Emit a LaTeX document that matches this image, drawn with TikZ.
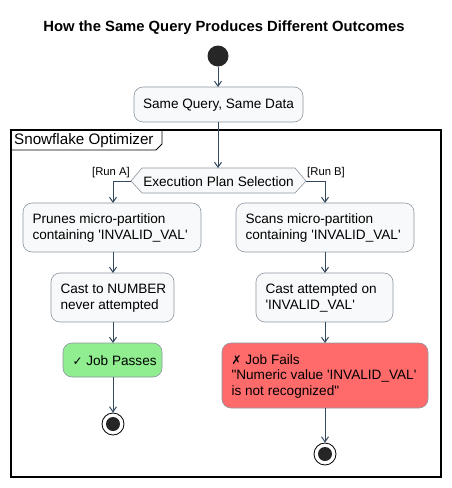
\documentclass[tikz,border=0pt]{standalone}
\usepackage{fontspec}
\setmainfont{Liberation Sans}[Ligatures=TeXOff]
\newfontfamily\symfont{DejaVu Sans}
\usetikzlibrary{arrows.meta,shapes.misc}
\definecolor{arr}{HTML}{34495E}
\definecolor{boxfill}{HTML}{F8F9FA}
\definecolor{boxline}{HTML}{8C96A0}
\definecolor{okfill}{HTML}{90EE90}
\definecolor{failfill}{HTML}{FF6B6B}
\begin{document}
\begin{tikzpicture}[x=1pt,y=-1pt,
  font=\fontsize{13.6}{15.5}\selectfont,
  act/.style={draw=boxline,fill=boxfill,rounded corners=9pt,line width=0.6pt,inner sep=0pt},
  flow/.style={draw=arr,line width=1pt,-{Straight Barb[length=5pt,width=7pt,line width=1pt]}},
  lab/.style={font=\fontsize{11.3}{13}\selectfont,inner sep=0pt}]
\useasboundingbox (0,0) rectangle (451,488);
\fill[white] (0,0) rectangle (451,488);
% title
\node[font=\bfseries\fontsize{14.8}{17}\selectfont] (title) at (224,28) {How the Same Query Produces Different Outcomes};
% start
\node[circle,fill=black!85,minimum size=21pt,inner sep=0pt] (start) at (218,56) {};
% same query box
\draw[act] (134,87) rectangle (303,122);
\node (sq) at (218.5,105) {Same Query, Same Data};
\coordinate (sqt) at (218,87);
\coordinate (sqb) at (218,122);
% frame
\draw[line width=1.2pt] (11,130) rectangle (441,477);
\draw[line width=0.8pt] (11,150) -- (156,150) -- (162,144) -- (162,130);
\node[anchor=west,inner sep=0pt,font=\fontsize{15.2}{17}\selectfont] (frl) at (14,141) {Snowflake Optimizer};
% diamond
\draw[draw=boxline,fill=boxfill,line width=0.6pt] (131,181) -- (142,168) -- (295,168) -- (306,181) -- (295,193) -- (142,193) -- cycle;
\node (dia) at (218.5,181.5) {Execution Plan Selection};
\coordinate (diat) at (218,168);
\coordinate (dial) at (131,181);
\coordinate (diar) at (306,181);
\node[lab,anchor=south east] (ra) at (130,178) {[Run A]};
\node[lab,anchor=south west] (rb) at (307,178) {[Run B]};
% left column
\draw[act] (23,203) rectangle (201,252);
\node[align=left,anchor=west] (l1) at (29,228) {Prunes micro-partition\\containing 'INVALID\_VAL'};
\draw[act] (51,273) rectangle (174,322);
\node[align=left,anchor=west] (l2) at (57,298) {Cast to NUMBER\\never attempted};
\draw[fill=okfill,draw=boxline,rounded corners=9pt,line width=0.6pt] (63,343) rectangle (162,377);
\node[anchor=west] (l3) at (69,361) {{\symfont\fontsize{12}{13}\selectfont ✓} Job Passes};
\node[circle,draw=black,line width=0.8pt,fill=white,minimum size=22pt,inner sep=0pt] (lend) at (113,424) {};
\fill[black!85] (lend) circle (7pt);
% right column
\draw[act] (236,203) rectangle (414,252);
\node[align=left,anchor=west] (r1) at (242,228) {Scans micro-partition\\containing 'INVALID\_VAL'};
\draw[act] (256,273) rectangle (393,322);
\node[align=left,anchor=west] (r2) at (262,298) {Cast attempted on\\'INVALID\_VAL'};
\draw[fill=failfill,draw=boxline,rounded corners=9pt,line width=0.6pt] (222,343) rectangle (428,408);
\node[align=left,anchor=west] (r3) at (228,376) {{\symfont\fontsize{12}{13}\selectfont ✗} Job Fails\\"Numeric value 'INVALID\_VAL'\\is not recognized"};
\node[circle,draw=black,line width=0.8pt,fill=white,minimum size=22pt,inner sep=0pt] (rend) at (325,454) {};
\fill[black!85] (rend) circle (7pt);
% connectors
\draw[flow] (start) -- (sqt);
\draw[flow] (sqb) -- (diat);
\draw[flow] (dial) -- (113,181) -- (113,203);
\draw[flow] (diar) -- (325,181) -- (325,203);
\draw[flow] (113,252) -- (113,273);
\draw[flow] (113,322) -- (113,343);
\draw[flow] (113,377) -- (lend);
\draw[flow] (325,252) -- (325,273);
\draw[flow] (325,322) -- (325,343);
\draw[flow] (325,408) -- (rend);
\end{tikzpicture}
\end{document}
